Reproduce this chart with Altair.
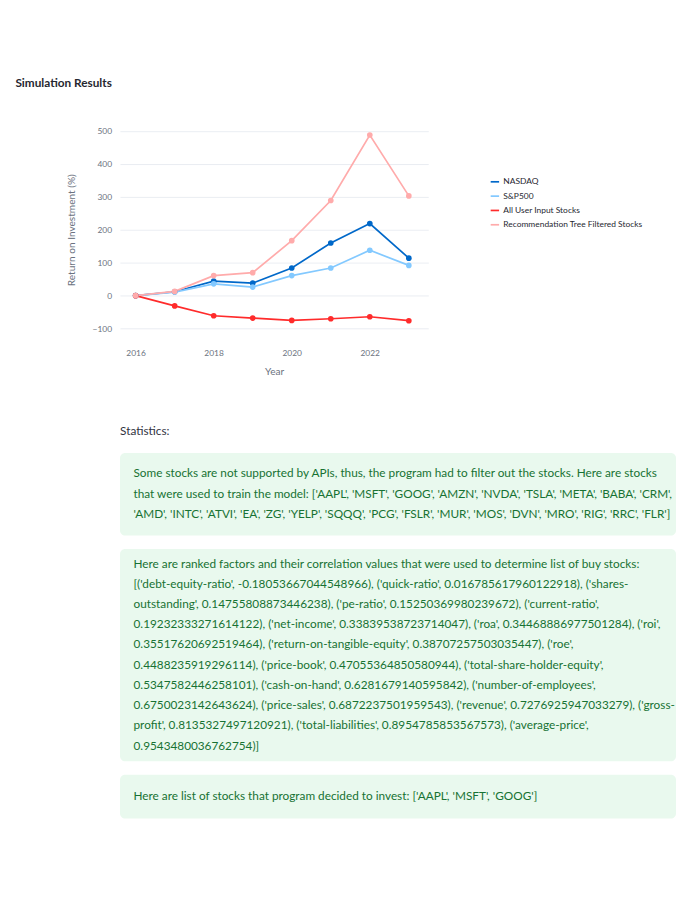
import altair as alt
import pandas as pd

years = [2016, 2017, 2018, 2019, 2020, 2021, 2022, 2023]
nasdaq = [0, 12, 44, 38, 84, 160, 219, 114]
sp500 = [0, 11, 36, 26, 61, 84, 138, 92]
user = [0, -31, -61, -68, -75, -70, -64, -76]
rec = [0, 13, 61, 70, 167, 289, 488, 303]
series = ["NASDAQ", "S&P500", "All User Input Stocks", "Recommendation Tree Filtered Stocks"]
colors = ["#0068c9", "#83c9ff", "#ff2b2b", "#ffabab"]

box1 = [
    "Some stocks are not supported by APIs, thus, the program had to filter out the stocks. Here are stocks",
    "that were used to train the model: ['AAPL', 'MSFT', 'GOOG', 'AMZN', 'NVDA', 'TSLA', 'META', 'BABA', 'CRM',",
    "'AMD', 'INTC', 'ATVI', 'EA', 'ZG', 'YELP', 'SQQQ', 'PCG', 'FSLR', 'MUR', 'MOS', 'DVN', 'MRO', 'RIG', 'RRC', 'FLR']",
]
box2 = [
    "Here are ranked factors and their correlation values that were used to determine list of buy stocks:",
    "[('debt-equity-ratio', -0.18053667044548966), ('quick-ratio', 0.016785617960122918), ('shares-",
    "outstanding', 0.14755808873446238), ('pe-ratio', 0.15250369980239672), ('current-ratio',",
    "0.19232333271614122), ('net-income', 0.33839538723714047), ('roa', 0.34468886977501284), ('roi',",
    "0.35517620692519464), ('return-on-tangible-equity', 0.38707257503035447), ('roe',",
    "0.4488235919296114), ('price-book', 0.47055364850580944), ('total-share-holder-equity',",
    "0.5347582446258101), ('cash-on-hand', 0.6281679140595842), ('number-of-employees',",
    "0.6750023142643624), ('price-sales', 0.6872237501959543), ('revenue', 0.7276925947033279), ('gross-",
    "profit', 0.8135327497120921), ('total-liabilities', 0.8954785853567573), ('average-price',",
    "0.9543480036762754)]",
]
box3 = ["Here are list of stocks that program decided to invest: ['AAPL', 'MSFT', 'GOOG']"]

rows = []
for name, vals in zip(series, [nasdaq, sp500, user, rec]):
    for y, v in zip(years, vals):
        rows.append({"Year": y, "ROI": v, "series": name})
df = pd.DataFrame(rows)

FONT = "Lato"
line = alt.Chart(df).mark_line(point=alt.OverlayMarkDef(size=45, filled=True, opacity=1), strokeWidth=2).encode(
    x=alt.X("Year:Q", scale=alt.Scale(domain=[2015.6, 2023.5], nice=False, zero=False),
            axis=alt.Axis(values=[2016, 2018, 2020, 2022], format="d", grid=False, domain=False, ticks=False,
                          labelColor="#6b7280", labelFontSize=10, labelPadding=12, title="Year",
                          titleColor="#6b7280", titleFontSize=12, titleFontWeight="normal", titlePadding=12)),
    y=alt.Y("ROI:Q", scale=alt.Scale(domain=[-130, 530], nice=False),
            axis=alt.Axis(values=[-100, 0, 100, 200, 300, 400, 500], gridColor="#e6e9ef", domain=False, ticks=False,
                          labelColor="#6b7280", labelFontSize=10, labelPadding=10, title="Return on Investment (%)",
                          titleColor="#6b7280", titleFontSize=12, titleFontWeight="normal", titlePadding=18)),
    color=alt.Color("series:N", scale=alt.Scale(domain=series, range=colors),
                    legend=alt.Legend(title=None, orient="none", legendX=439, legendY=66, labelFontSize=10,
                                      labelColor="#262730", symbolType="stroke", symbolStrokeWidth=2,
                                      rowPadding=6, labelLimit=250)),
    order="Year:Q",
).properties(width=366, height=258,
             title=alt.TitleParams("Simulation Results", anchor="start", fontSize=14, fontWeight="bold",
                                   color="#262730", dx=-60, offset=38, font=FONT))

stats = alt.Chart(pd.DataFrame({"t": ["Statistics:"]})).mark_text(
    align="left", fontSize=14, color="#31333f", font=FONT).encode(
    text="t:N", x=alt.value(0), y=alt.value(10)).properties(width=660, height=20)


def box(lines, pad):
    d = pd.DataFrame({"i": list(range(len(lines))), "t": lines})
    return alt.Chart(d).mark_text(align="left", fontSize=14, color="#177233", font=FONT).encode(
        text="t:N", x=alt.value(16),
        y=alt.Y("i:O", axis=None, scale=alt.Scale(type="point", padding=pad)),
    ).properties(width=660, height=alt.Step(24),
                 view=alt.ViewConfig(fill="#e9f9ee", stroke=None, cornerRadius=6))


lower = alt.vconcat(stats, box(box1, 1.04), box(box2, 0.75), box(box3, 1.08), spacing=16)
chart = alt.vconcat(line, lower, spacing=55).properties(
    padding={"left": 8, "top": 0, "right": 0, "bottom": 0}
).configure(font=FONT).configure_view(stroke=None)

chart.save("out.html", embed_options={"renderer": "svg", "actions": False})
